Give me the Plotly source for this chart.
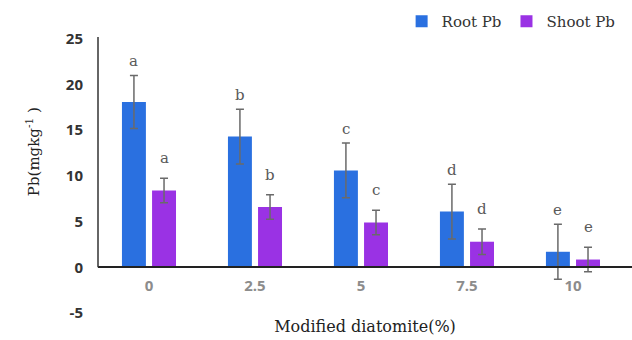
import plotly.graph_objects as go

categories = ["0", "2.5", "5", "7.5", "10"]
root_pb = [18.1, 14.3, 10.6, 6.1, 1.7]
root_err = [2.9, 3.0, 3.0, 3.0, 3.0]
shoot_pb = [8.4, 6.6, 4.9, 2.8, 0.85]
shoot_err = [1.35, 1.35, 1.35, 1.4, 1.35]
root_letters = ["a", "b", "c", "d", "e"]
shoot_letters = ["a", "b", "c", "d", "e"]
y_ticks = [-5, 0, 5, 10, 15, 20, 25]
y_tick_text = ["-5", "0", "5", "10", "15", "20", "25"]

y_min, y_max = -5, 25.2
bar_w = 0.226
root_off = -0.255
shoot_off = 0.029
serif = "DejaVu Serif"
sans = "Open Sans"

fig = go.Figure()
fig.add_trace(go.Bar(
    name="Root Pb", x=categories, y=root_pb, width=bar_w, offset=root_off,
    marker=dict(color="#2a70e0", line=dict(width=0)),
    error_y=dict(type="data", array=root_err, color="#6a6a6a", thickness=1.5, width=4),
))
fig.add_trace(go.Bar(
    name="Shoot Pb", x=categories, y=shoot_pb, width=bar_w, offset=shoot_off,
    marker=dict(color="#9a32e4", line=dict(width=0)),
    error_y=dict(type="data", array=shoot_err, color="#6a6a6a", thickness=1.5, width=4),
))

annotations = []
for i, (v, e, t) in enumerate(zip(root_pb, root_err, root_letters)):
    annotations.append(dict(x=i + root_off + bar_w / 2, y=v + e, text=t, showarrow=False,
                            xref="x", yref="y", yanchor="bottom", yshift=3,
                            font=dict(family=serif, size=15, color="#5a5a5a")))
for i, (v, e, t) in enumerate(zip(shoot_pb, shoot_err, shoot_letters)):
    annotations.append(dict(x=i + shoot_off + bar_w / 2, y=v + e, text=t, showarrow=False,
                            xref="x", yref="y", yanchor="bottom", yshift=9,
                            font=dict(family=serif, size=15, color="#5a5a5a")))

# y-axis title centred on the 0..max portion of the axis
annotations.append(dict(x=0, xref="paper", xshift=-65, y=y_max / 2, yref="y",
                        text="Pb(mgkg<sup>-1</sup> )", textangle=-90, showarrow=False,
                        xanchor="center", yanchor="middle",
                        font=dict(family=serif, size=15, color="#222")))

zero_pos = (0 - y_min) / (y_max - y_min)

fig.update_layout(
    width=632, height=340,
    margin=dict(l=98, r=0, t=37, b=27, autoexpand=False),
    paper_bgcolor="white", plot_bgcolor="white",
    barmode="group",
    showlegend=True,
    legend=dict(orientation="h", xref="container", x=0.982, xanchor="right",
                yref="container", y=0.985, yanchor="top",
                font=dict(family=serif, size=15, color="#333"),
                itemwidth=30, tracegroupgap=0),
    annotations=annotations,
    xaxis=dict(
        type="category", range=[-0.481, 4.557],
        anchor="free", position=zero_pos,
        showline=True, linecolor="#222", linewidth=1.5,
        showgrid=False, zeroline=False, ticks="",
        tickfont=dict(family=sans, size=15, color="#8c8c8c", weight="bold"),
        ticklabelstandoff=5,
        title=dict(text="Modified diatomite(%)", standoff=26,
                   font=dict(family=serif, size=16, color="#222")),
    ),
    yaxis=dict(
        range=[y_min, y_max], tickvals=y_ticks, ticktext=y_tick_text,
        showline=False, showgrid=False, zeroline=False, ticks="",
        tickfont=dict(family=sans, size=15, color="#333", weight="bold"),
        ticklabelstandoff=14,
    ),
    shapes=[dict(type="line", xref="paper", yref="y", x0=0, x1=0, y0=0, y1=y_max,
                 line=dict(color="#333", width=1.5))],
)

fig.write_html("out.html")
